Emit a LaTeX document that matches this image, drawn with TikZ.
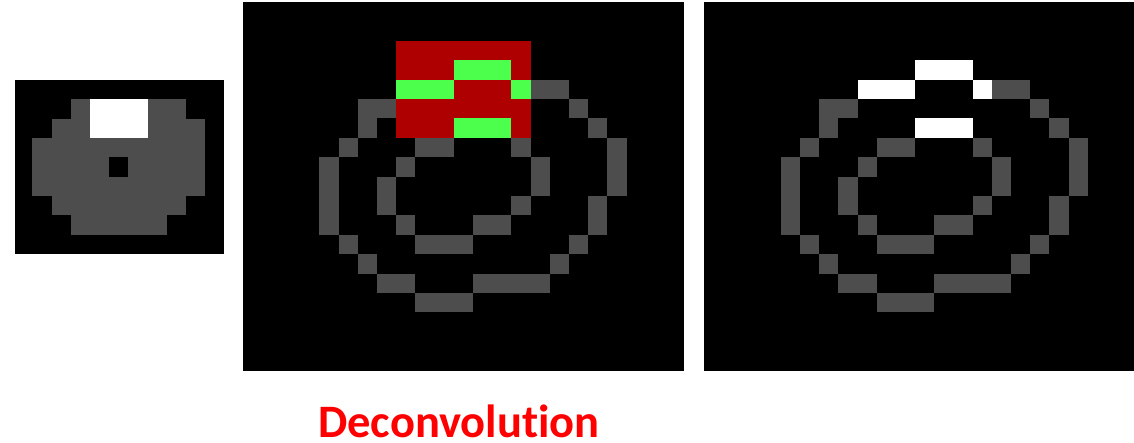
\documentclass[tikz,border=0pt]{standalone}
\usepackage{fontspec}
\newfontfamily\captionfont[Ligatures=NoCommon]{Carlito}
\definecolor{ringgrey}{HTML}{4D4D4D}
\definecolor{kernred}{HTML}{AF0000}
\definecolor{kerngreen}{HTML}{4DFF4D}
\definecolor{labelred}{HTML}{FF0000}
% lit cells, as runs row/first column/last column
\newcommand{\blobruns}{1/3/8, 2/2/9, 3/1/9, 4/1/9, 5/1/9, 6/2/8, 7/3/7}
\newcommand{\ringruns}{4/15/16, 5/6/7, 5/17/17, 6/6/6, 6/18/18,
  7/5/5, 7/9/10, 7/14/14, 7/19/19, 8/4/4, 8/8/8, 8/15/15, 8/19/19,
  9/4/4, 9/7/7, 9/15/15, 9/19/19, 10/4/4, 10/7/7, 10/14/14, 10/18/18,
  11/4/4, 11/8/8, 11/12/13, 11/18/18, 12/5/5, 12/9/11, 12/17/17,
  13/6/6, 13/16/16, 14/7/8, 14/12/15, 15/9/11}
\newcommand{\hitruns}{3/11/13, 4/8/10, 4/14/14, 6/11/13}

\begin{document}
\begin{tikzpicture}[x=1pt, y=-1pt,
  panel/.style={fill=black},
  cellgrid/.style={x=19.19pt, y=-19.4pt},
  caption/.style={font=\captionfont\bfseries\fontsize{46.5}{50}\selectfont,
                  text=labelred, anchor=base, inner sep=0pt}
]
\useasboundingbox (0,0) rectangle (1134,443);

% Input patch with its bright spot.
\fill[panel] (15,80) rectangle (224,254);
\begin{scope}[shift={(13.2,80)}, cellgrid, y=-19.35pt]
  \foreach \r/\a/\b in \blobruns
    \fill[ringgrey] (\a,\r) rectangle (\b+1,\r+1);
  \fill[white] (4,1) rectangle (7,3);
  \fill[black] (5,4) rectangle (6,5);
\end{scope}

% Rings with the kernel laid over them.
\fill[panel] (242.7,2) rectangle (684,370.7);
\begin{scope}[shift={(242.7,2)}, cellgrid]
  \foreach \r/\a/\b in \ringruns
    \fill[ringgrey] (\a,\r) rectangle (\b+1,\r+1);
  \fill[kernred] (8,2) rectangle (15,7);
  \foreach \r/\a/\b in \hitruns
    \fill[kerngreen] (\a,\r) rectangle (\b+1,\r+1);
\end{scope}

% Result: rings plus the spread-out spot.
\fill[panel] (704,2) rectangle (1134,370.7);
\begin{scope}[shift={(704,2)}, cellgrid]
  \foreach \r/\a/\b in \ringruns
    \fill[ringgrey] (\a,\r) rectangle (\b+1,\r+1);
  \foreach \r/\a/\b in \hitruns
    \fill[white] (\a,\r) rectangle (\b+1,\r+1);
\end{scope}

\node[caption] (deconv) at (459,437.5) {Deconvolution};
\end{tikzpicture}
\end{document}
